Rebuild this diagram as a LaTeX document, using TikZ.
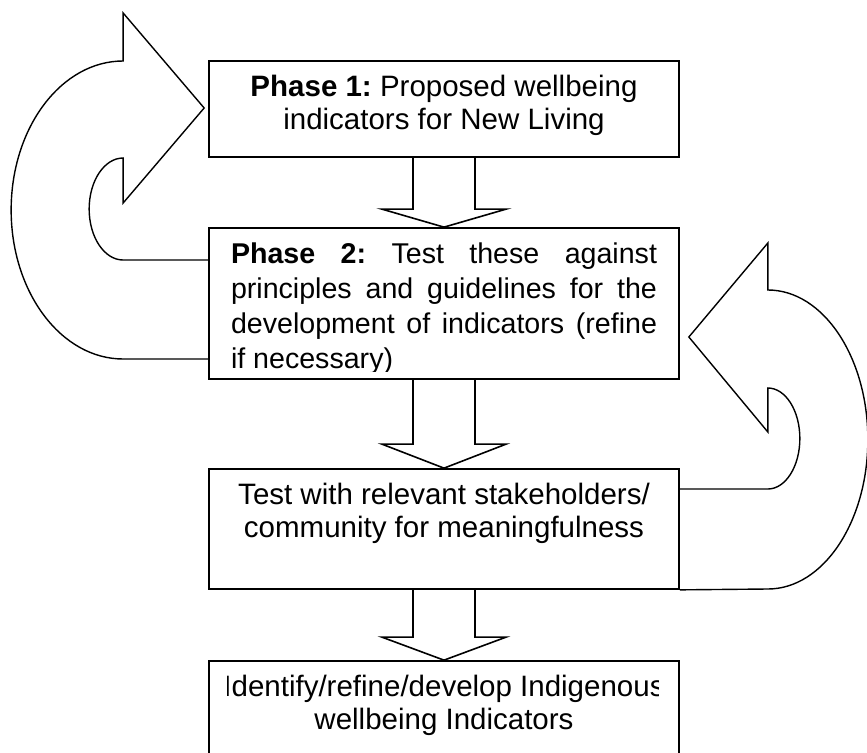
\documentclass[tikz,border=0pt]{standalone}
\usepackage{fontspec}
\setmainfont{Liberation Sans}
\frenchspacing
\usetikzlibrary{calc}

\tikzset{
  box/.style={draw, rectangle, line width=1.7pt, minimum width=470pt, inner sep=0pt},
  boxtext/.style={anchor=north, inner sep=0pt, yshift=-15pt, font=\fontsize{29.5}{33}\selectfont, align=center},
  loop/.style={line width=1.4pt},
}

% hollow block arrow from the bottom of one box to the top of the next
\newcommand{\blockarrow}[3]{%
  \draw[line width=1.6pt] ($(#1.south)+(-31,0)$) -- ($(#2.north)+(-31,#3)$) -- ($(#2.north)+(-62,#3)$)
    -- (#2.north) -- ($(#2.north)+(62,#3)$) -- ($(#2.north)+(31,#3)$) -- ($(#1.south)+(31,0)$);
}

\begin{document}
\begin{tikzpicture}[x=1pt, y=1pt]
    \useasboundingbox (0,0) rectangle (867,-752);
    \clip (0,0) rectangle (867,-752);

    % Phase boxes
    \node[box, minimum height=96pt] (box1) at (444,-109) {};
    \node[box, minimum height=151pt] (box2) at (444,-303.5) {};
    \node[box, minimum height=120pt] (box3) at (444,-529) {};
    \node[box, minimum height=120pt] (box4) at (444,-721) {};

    % Box texts
    \node[boxtext] (text1) at (box1.north) {\textbf{Phase 1:} Proposed wellbeing\\indicators for New Living};
    \begin{scope}
        \clip ($(box2.north west)+(20,0)$) rectangle ($(box2.south east)+(-18,8)$);
        \node[boxtext, font=\fontsize{28.6}{35}\selectfont, text width=426pt, align=justify] (text2) at (box2.north)
            {\textbf{Phase 2:} Test these against\linebreak principles and guidelines for the\linebreak development of indicators (refine\linebreak if necessary)};
    \end{scope}
    \node[boxtext] (text3) at (box3.north) {Test with relevant stakeholders/\\community for meaningfulness};
    \begin{scope}
        \clip ($(box4.north west)+(19,0)$) rectangle ($(box4.south east)+(-21,0)$);
        \node[boxtext] (text4) at (box4.north) {Identify/refine/develop Indigenous\\wellbeing Indicators};
    \end{scope}

    % Arrows down
    \blockarrow{box1}{box2}{18}
    \blockarrow{box2}{box3}{24}
    \blockarrow{box3}{box4}{23}

    % Feedback loop back to phase 1
    \draw[loop] ($(box2.west)+(0,43.5)$) -- ++(-85,0)
        arc[start angle=270, end angle=90, x radius=34, y radius=51]
        -- ++(0,-45) -- ++(81,95) -- ++(-81,95) -- ++(0,-48)
        arc[start angle=90, end angle=270, x radius=112, y radius=149]
        -- ($(box2.west)+(0,-55.5)$);

    % Feedback loop back to phase 2
    \draw[loop] ($(box3.east)+(0,40)$) -- ++(88,0)
        arc[start angle=-90, end angle=90, x radius=32, y radius=50.5]
        -- ++(0,-44) -- ++(-79,95) -- ++(79,94) -- ++(0,-47)
        arc[start angle=90, end angle=-90, x radius=100, y radius=149.5]
        -- (box3.south east);
\end{tikzpicture}
\end{document}
